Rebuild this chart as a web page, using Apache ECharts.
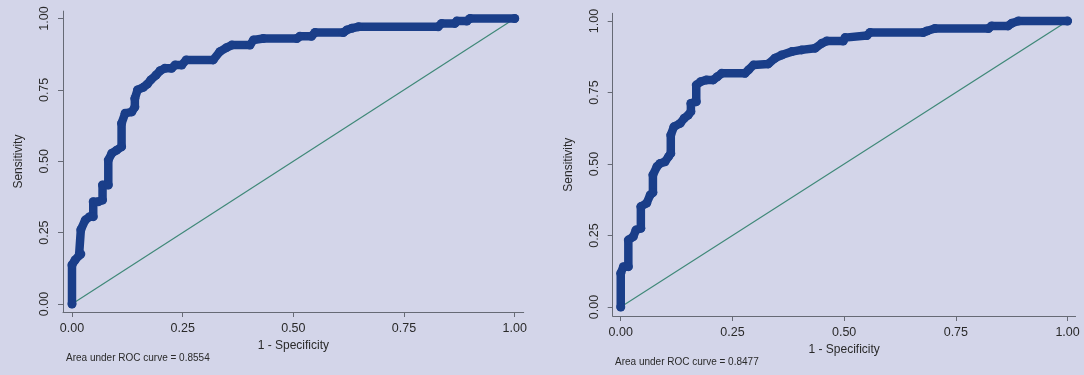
<!DOCTYPE html>
<html>
<head>
<meta charset="utf-8">
<style>
  html, body { margin: 0; padding: 0; background: #d3d5e9; }
  #chart { width: 1084px; height: 375px; }
</style>
<script src="https://cdn.jsdelivr.net/npm/echarts@6/dist/echarts.min.js"></script>
</head>
<body>
<div id="chart"></div>
<script>
// tick positions and labels shared by both panels
const tickValues = [0, 0.25, 0.5, 0.75, 1];
const tickLabels = ['0.00', '0.25', '0.50', '0.75', '1.00'];

// left panel ROC curve (1 - specificity, sensitivity)
const leftFpr = [0.000, 0.000, 0.007, 0.016, 0.020, 0.020, 0.030, 0.040, 0.048, 0.048, 0.059, 0.069, 0.069, 0.082, 0.082, 0.090, 0.101, 0.112, 0.112, 0.120, 0.135, 0.142, 0.142, 0.148, 0.161, 0.170, 0.178, 0.190, 0.199, 0.210, 0.225, 0.233, 0.248, 0.258, 0.319, 0.334, 0.349, 0.361, 0.402, 0.410, 0.432, 0.508, 0.515, 0.541, 0.549, 0.613, 0.621, 0.632, 0.647, 0.827, 0.835, 0.865, 0.869, 0.892, 0.899, 1.000];
const leftTpr = [0.000, 0.137, 0.154, 0.170, 0.175, 0.260, 0.294, 0.306, 0.306, 0.358, 0.358, 0.364, 0.417, 0.417, 0.504, 0.528, 0.539, 0.551, 0.633, 0.668, 0.673, 0.690, 0.720, 0.750, 0.759, 0.770, 0.785, 0.802, 0.817, 0.826, 0.826, 0.837, 0.837, 0.855, 0.855, 0.884, 0.898, 0.907, 0.907, 0.925, 0.930, 0.930, 0.938, 0.938, 0.951, 0.951, 0.960, 0.966, 0.971, 0.971, 0.983, 0.983, 0.991, 0.991, 1.000, 1.000];

// right panel ROC curve
const rightFpr = [0.000, 0.000, 0.006, 0.017, 0.017, 0.028, 0.034, 0.045, 0.045, 0.058, 0.066, 0.072, 0.072, 0.081, 0.088, 0.099, 0.107, 0.112, 0.112, 0.119, 0.133, 0.142, 0.151, 0.157, 0.157, 0.169, 0.169, 0.179, 0.192, 0.207, 0.216, 0.226, 0.278, 0.286, 0.297, 0.330, 0.345, 0.360, 0.383, 0.405, 0.435, 0.450, 0.461, 0.498, 0.502, 0.551, 0.558, 0.677, 0.685, 0.703, 0.823, 0.830, 0.867, 0.875, 0.890, 1.000];
const rightTpr = [0.000, 0.118, 0.141, 0.141, 0.234, 0.246, 0.269, 0.275, 0.351, 0.363, 0.392, 0.400, 0.462, 0.491, 0.502, 0.508, 0.526, 0.537, 0.601, 0.630, 0.642, 0.660, 0.671, 0.683, 0.712, 0.718, 0.776, 0.788, 0.794, 0.794, 0.805, 0.817, 0.817, 0.829, 0.846, 0.850, 0.870, 0.881, 0.893, 0.899, 0.905, 0.922, 0.930, 0.930, 0.942, 0.949, 0.960, 0.960, 0.965, 0.974, 0.974, 0.983, 0.983, 0.992, 1.000, 1.000];

// reference line
const diagX = [0, 1];
const diagY = [0, 1];

const aucLabels = ['Area under ROC curve = 0.8554', 'Area under ROC curve = 0.8477'];

const FONT = 'Liberation Sans, Arial, sans-serif';
const curveColor = '#1a3e89';
const diagColor = '#3f8878';
const axisColor = '#666a75';
const textColor = '#2a2a2a';

const zip = (xs, ys) => xs.map((x, i) => [x, ys[i]]);
const fmt = (v) => tickLabels[tickValues.indexOf(v)];

function xAxisFor(gridIndex, min, max) {
  return {
    type: 'value',
    gridIndex,
    min,
    max,
    name: '1 - Specificity',
    nameLocation: 'middle',
    nameGap: 21,
    nameTextStyle: { fontFamily: FONT, fontSize: 12, color: textColor },
    axisLine: { onZero: false, lineStyle: { color: axisColor, width: 1 } },
    axisTick: { length: 5, lineStyle: { color: axisColor }, customValues: tickValues },
    axisLabel: {
      customValues: tickValues,
      formatter: fmt,
      margin: 10,
      fontFamily: FONT,
      fontSize: 12.5,
      color: textColor,
    },
    splitLine: { show: false },
  };
}

function yAxisFor(gridIndex, min, max) {
  return {
    type: 'value',
    gridIndex,
    min,
    max,
    name: 'Sensitivity',
    nameLocation: 'middle',
    nameGap: 38,
    nameTextStyle: { fontFamily: FONT, fontSize: 12, color: textColor },
    axisLine: { onZero: false, lineStyle: { color: axisColor, width: 1 } },
    axisTick: { length: 5, lineStyle: { color: axisColor }, customValues: tickValues },
    axisLabel: {
      customValues: tickValues,
      formatter: fmt,
      rotate: 90,
      margin: 12,
      fontFamily: FONT,
      fontSize: 12.5,
      color: textColor,
    },
    splitLine: { show: false },
  };
}

function rocSeries(idx, xs, ys) {
  return {
    type: 'line',
    xAxisIndex: idx,
    yAxisIndex: idx,
    data: zip(xs, ys),
    symbol: 'circle',
    symbolSize: 9,
    showSymbol: true,
    itemStyle: { color: curveColor },
    lineStyle: { color: curveColor, width: 8.5, cap: 'round', join: 'round' },
    silent: true,
    z: 3,
  };
}

function diagSeries(idx) {
  return {
    type: 'line',
    xAxisIndex: idx,
    yAxisIndex: idx,
    data: zip(diagX, diagY),
    showSymbol: false,
    lineStyle: { color: diagColor, width: 1.2 },
    silent: true,
    z: 2,
  };
}

const chart = echarts.init(document.getElementById('chart'));

chart.setOption({
  backgroundColor: '#d3d5e9',
  animation: false,
  title: [
    {
      text: aucLabels[0],
      left: 66,
      top: 353,
      textStyle: { fontFamily: FONT, fontSize: 10, fontWeight: 'normal', color: textColor },
      padding: 0,
    },
    {
      text: aucLabels[1],
      left: 615,
      top: 357,
      textStyle: { fontFamily: FONT, fontSize: 10, fontWeight: 'normal', color: textColor },
      padding: 0,
    },
  ],
  grid: [
    { left: 63, top: 11.1, width: 460.7, height: 300.9 },
    { left: 612.7, top: 13.3, width: 462.9, height: 302.7 },
  ],
  xAxis: [
    xAxisFor(0, -0.0203, 1.0203),
    xAxisFor(1, -0.018, 1.018),
  ],
  yAxis: [
    yAxisFor(0, -0.028, 1.026),
    yAxisFor(1, -0.0315, 1.027),
  ],
  series: [
    diagSeries(0),
    rocSeries(0, leftFpr, leftTpr),
    diagSeries(1),
    rocSeries(1, rightFpr, rightTpr),
  ],
});

window.addEventListener('resize', () => {
  chart.resize();
});
</script>
</body>
</html>
